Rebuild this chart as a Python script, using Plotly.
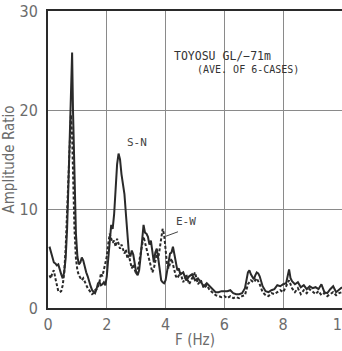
import plotly.graph_objects as go

# S-N component (solid)
sn_f = [0.05,0.1,0.15,0.2,0.25,0.3,0.35,0.4,0.45,0.5,0.55,0.6,0.65,0.7,0.75,0.8,0.82,0.85,0.9,0.95,
        1.0,1.05,1.1,1.15,1.2,1.25,1.3,1.35,1.4,1.45,1.5,1.55,1.6,1.65,1.7,1.75,1.8,1.85,1.9,1.95,
        2.0,2.05,2.1,2.15,2.2,2.25,2.3,2.35,2.4,2.45,2.5,2.55,2.6,2.65,2.7,2.75,2.8,2.85,2.9,2.95,
        3.0,3.05,3.1,3.15,3.2,3.25,3.3,3.35,3.4,3.45,3.5,3.55,3.6,3.65,3.7,3.75,3.8,3.85,3.9,3.95,
        4.0,4.05,4.1,4.15,4.2,4.25,4.3,4.35,4.4,4.45,4.5,4.6,4.7,4.8,4.9,5.0,5.1,5.2,5.3,5.4,5.5,
        5.6,5.7,5.8,5.9,6.0,6.1,6.2,6.3,6.4,6.5,6.6,6.7,6.8,6.85,6.9,7.0,7.05,7.1,7.15,7.2,7.3,7.4,
        7.5,7.6,7.7,7.8,7.9,8.0,8.1,8.2,8.25,8.3,8.4,8.5,8.6,8.7,8.8,8.9,9.0,9.1,9.2,9.3,9.4,9.5,
        9.6,9.7,9.8,9.9,10.0]
sn_a = [6.2,5.6,5.0,4.6,4.5,4.3,4.4,3.8,3.4,3.0,3.6,5.0,8.0,13.0,19.0,24.5,25.8,20.0,12.0,7.5,
        5.2,4.4,4.6,5.1,4.8,4.0,3.6,3.2,2.6,2.2,1.8,1.6,1.5,1.9,2.5,2.6,2.3,2.4,2.6,2.3,
        3.2,5.0,7.2,8.4,8.0,9.5,12.0,14.5,15.6,15.0,13.5,12.4,11.5,9.5,7.0,5.6,5.2,5.8,5.4,4.6,
        3.6,3.3,3.8,5.2,6.8,8.4,7.6,7.5,7.2,6.4,6.8,5.8,4.6,5.6,6.0,5.0,3.6,2.8,2.6,2.5,
        2.8,3.8,5.0,5.5,5.6,6.2,5.4,4.4,3.8,4.0,3.4,3.6,2.8,3.2,3.4,2.8,3.0,2.6,2.2,2.5,2.2,
        1.8,1.6,1.6,1.7,1.7,1.7,1.8,1.5,1.4,1.4,1.5,2.0,3.6,3.8,3.4,2.9,3.3,3.6,3.5,3.2,2.2,1.7,
        1.6,1.8,1.9,2.3,2.2,2.4,2.5,3.9,3.0,2.7,2.4,2.6,2.1,2.3,1.9,2.2,2.0,2.1,1.9,2.4,1.6,1.5,
        1.9,2.2,1.6,1.9,2.1]

# E-W component (dashed)
ew_f = [0.05,0.1,0.15,0.2,0.25,0.3,0.35,0.4,0.45,0.5,0.55,0.6,0.65,0.7,0.75,0.78,0.82,0.85,0.9,0.95,
        1.0,1.05,1.1,1.15,1.2,1.25,1.3,1.35,1.4,1.45,1.5,1.55,1.6,1.65,1.7,1.75,1.8,1.85,1.9,1.95,
        2.0,2.05,2.1,2.15,2.2,2.25,2.3,2.35,2.4,2.45,2.5,2.55,2.6,2.65,2.7,2.75,2.8,2.85,2.9,2.95,
        3.0,3.05,3.1,3.15,3.2,3.25,3.3,3.35,3.4,3.45,3.5,3.55,3.6,3.65,3.7,3.75,3.8,3.85,3.9,3.95,
        4.0,4.05,4.1,4.15,4.2,4.25,4.3,4.35,4.4,4.5,4.6,4.7,4.8,4.9,5.0,5.1,5.2,5.3,5.4,5.5,
        5.6,5.7,5.8,5.9,6.0,6.1,6.2,6.3,6.4,6.5,6.6,6.7,6.8,6.9,7.0,7.1,7.2,7.3,7.4,
        7.5,7.6,7.7,7.8,7.9,8.0,8.1,8.2,8.3,8.4,8.5,8.6,8.7,8.8,8.9,9.0,9.1,9.2,9.3,9.4,9.5,
        9.6,9.7,9.8,9.9,10.0]
ew_a = [3.3,3.0,3.6,3.8,3.0,2.2,1.7,1.6,1.7,2.3,3.5,6.0,10.0,15.0,19.0,19.5,17.5,13.5,8.0,5.0,
        3.8,3.3,3.0,2.8,3.0,2.6,2.4,2.0,1.8,1.6,1.4,1.5,1.8,1.9,2.1,2.6,3.5,3.2,3.8,4.5,
        5.2,6.5,7.5,7.0,6.6,6.8,6.2,7.0,6.6,6.0,6.4,5.8,5.5,5.9,5.0,5.3,4.5,4.0,4.4,3.8,
        3.4,3.8,4.6,5.8,6.5,7.2,6.6,6.0,5.6,5.0,4.4,3.6,4.0,4.6,5.4,5.0,6.0,7.2,8.0,7.4,
        5.6,4.4,4.0,4.6,5.0,4.4,3.8,3.2,3.0,3.6,2.6,3.4,2.4,3.0,3.6,2.4,2.8,2.0,2.3,1.8,
        1.5,1.3,1.2,1.1,1.2,1.0,1.2,1.0,1.1,1.0,1.2,1.3,2.4,2.8,2.6,3.0,2.4,1.6,1.3,
        1.2,1.5,1.4,1.6,1.8,1.6,2.2,2.8,2.0,1.6,2.0,1.4,1.8,1.5,1.9,1.6,1.4,1.7,1.3,1.5,1.2,
        1.4,1.6,1.3,1.5,1.6]

x_ticks = [0, 2, 4, 6, 8, 10]
y_ticks = [0, 10, 20, 30]

ink = "#2a2a2a"
grey_txt = "#6b6b6b"
narrow = "Liberation Sans Narrow, Arial Narrow, DejaVu Sans Condensed, sans-serif"
mono = "DejaVu Sans Mono, monospace"

fig = go.Figure()
fig.add_trace(go.Scatter(x=ew_f, y=ew_a, mode="lines",
                         line=dict(color=ink, width=2, dash="3px,2px"), name="E-W"))
fig.add_trace(go.Scatter(x=sn_f, y=sn_a, mode="lines",
                         line=dict(color=ink, width=2), name="S-N"))

fig.update_layout(
    width=342, height=351,
    margin=dict(l=48, r=0, t=11, b=43),
    paper_bgcolor="white", plot_bgcolor="white",
    showlegend=False,
    font=dict(family=narrow, color=grey_txt, size=16),
    xaxis=dict(range=[0, 10], tickvals=x_ticks, ticktext=[str(v) for v in x_ticks],
               showgrid=True, gridcolor="#8a8a8a", gridwidth=1,
               showline=True, linecolor=ink, linewidth=2, mirror=True,
               zeroline=False, ticks="", ticklabelstandoff=1,
               ticklabeloverflow="allow", automargin=False,
               title=dict(text="F (Hz)", font=dict(size=15, family=narrow, color=grey_txt), standoff=1)),
    yaxis=dict(range=[0, 30], tickvals=y_ticks, ticktext=[str(v) for v in y_ticks],
               showgrid=True, gridcolor="#8a8a8a", gridwidth=1,
               showline=True, linecolor=ink, linewidth=2, mirror=True,
               zeroline=False, ticks="", ticklabelstandoff=5, automargin=False,
               title=dict(text="Amplitude Ratio", font=dict(size=15, family=narrow, color=grey_txt), standoff=1)),
)

fig.add_annotation(x=3.03, y=16.7, text="S-N", showarrow=False,
                   font=dict(family=mono, size=11, color="#444"))
fig.add_annotation(x=4.69, y=8.7, text="E-W", showarrow=False,
                   font=dict(family=mono, size=11, color="#444"))
fig.add_shape(type="line", x0=4.42, y0=7.7, x1=4.01, y1=7.25,
              line=dict(color="#444", width=1))
fig.add_annotation(x=4.22, y=25.5, text="TOYOSU GL/\u221271m", showarrow=False,
                   xanchor="left", font=dict(family=mono, size=11.5, color="#333"))
fig.add_annotation(x=5.0, y=24.1, text="(AVE. OF 6-CASES)", showarrow=False,
                   xanchor="left", font=dict(family=mono, size=10, color="#333"))

fig.write_html("out.html")
